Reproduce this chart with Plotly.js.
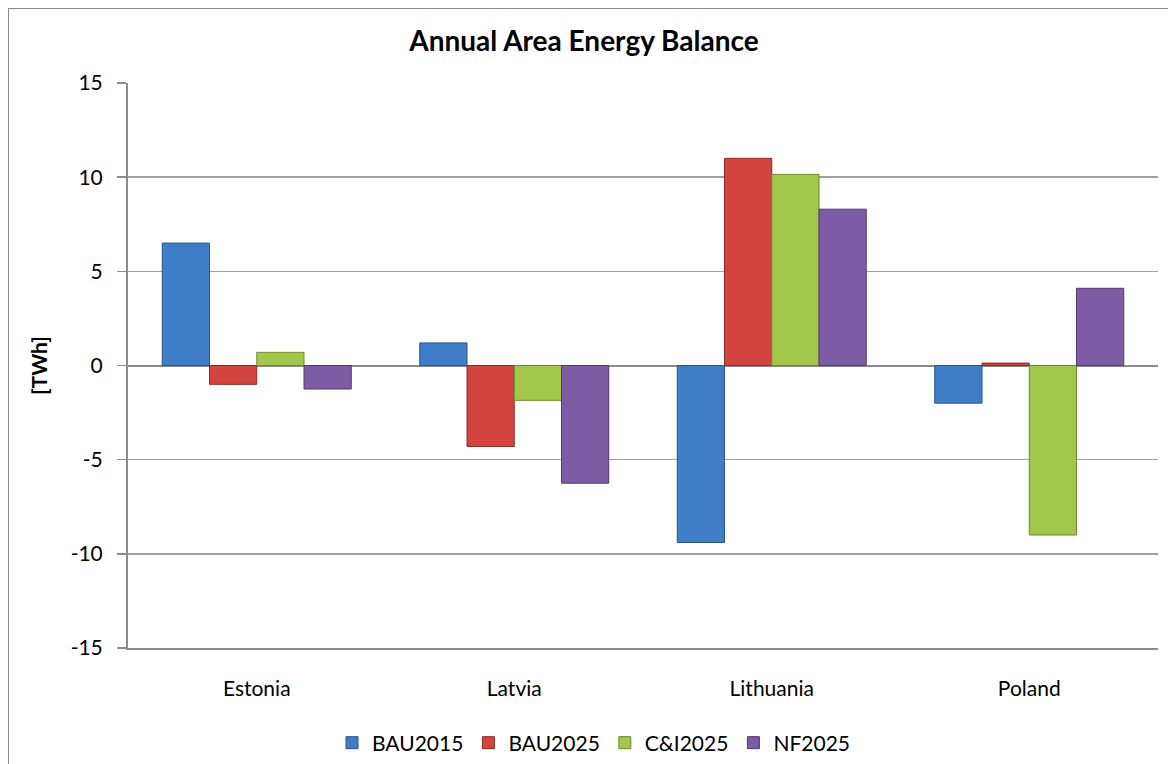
<!DOCTYPE html>
<html>
<head>
<meta charset="utf-8">
<script src="https://cdn.plot.ly/plotly-3.0.1.min.js"></script>
<style>
  html, body { margin: 0; padding: 0; background: #fff; }
  #wrap { position: relative; width: 1168px; height: 764px; overflow: hidden; }
  #chart { width: 1168px; height: 764px; }
  #frame { position: absolute; left: 8px; top: 8px; width: 1200px; height: 800px;
           border: 1px solid #8c8c8c; pointer-events: none; box-sizing: border-box; }
</style>
</head>
<body>
<div id="wrap">
  <div id="chart"></div>
  <div id="frame"></div>
</div>
<script>
const categories = ["Estonia", "Latvia", "Lithuania", "Poland"];
const seriesNames = ["BAU2015", "BAU2025", "C&I2025", "NF2025"];
const bau2015 = [6.5, 1.2, -9.4, -2.0];
const bau2025 = [-1.0, -4.3, 11.0, 0.13];
const ci2025 = [0.7, -1.85, 10.15, -9.0];
const nf2025 = [-1.25, -6.25, 8.3, 4.1];
const yTicks = [-15, -10, -5, 0, 5, 10, 15];

const values = [bau2015, bau2025, ci2025, nf2025];
const fills = ["#3f7dc8", "#d34441", "#a2c74a", "#7e5ba5"];
const edges = ["#2a5587", "#8e2b29", "#6d8a2e", "#54396f"];

const traces = seriesNames.map((name, i) => ({
  type: "bar",
  name: name,
  x: categories,
  y: values[i],
  marker: { color: fills[i], line: { color: edges[i], width: 1 } },
  hoverinfo: "x+y+name"
}));

const font = "Lato, 'Open Sans', 'DejaVu Sans', sans-serif";

const layout = {
  width: 1168,
  height: 764,
  paper_bgcolor: "#ffffff",
  plot_bgcolor: "#ffffff",
  margin: { l: 128, r: 10, t: 83, b: 116 },
  barmode: "group",
  bargap: 0.266,
  bargroupgap: 0,
  title: {
    text: "<b>Annual Area Energy Balance</b>",
    font: { family: font, size: 28, color: "#000" },
    x: 0.5, xanchor: "center", xref: "container",
    y: 1 - 41 / 764, yanchor: "middle", yref: "container"
  },
  xaxis: {
    type: "category",
    showgrid: false,
    showline: true,
    linecolor: "#8c8c8c",
    linewidth: 2,
    ticks: "",
    tickfont: { family: font, size: 21, color: "#000" },
    ticklabelstandoff: 21,
    zeroline: false,
    automargin: false
  },
  yaxis: {
    range: [-15, 15],
    tickvals: yTicks,
    ticktext: yTicks.map(String),
    showgrid: true,
    gridcolor: "#a0a0a0",
    gridwidth: 1.5,
    zeroline: true,
    zerolinecolor: "#8c8c8c",
    zerolinewidth: 2,
    showline: true,
    linecolor: "#8c8c8c",
    linewidth: 2,
    ticks: "outside",
    ticklen: 9,
    tickcolor: "#8c8c8c",
    tickwidth: 1.5,
    tickfont: { family: font, size: 21, color: "#000" },
    ticklabelstandoff: 10,
    automargin: false,
    title: { text: "<b>[TWh]</b>", font: { family: font, size: 21, color: "#000" }, standoff: 17 }
  },
  legend: {
    orientation: "h",
    xref: "container", yref: "container",
    x: 594 / 1168, xanchor: "center",
    y: 1 - 743 / 764, yanchor: "middle",
    font: { family: font, size: 21, color: "#000" },
    itemwidth: 30,
    traceorder: "normal",
    bgcolor: "rgba(0,0,0,0)"
  },
  showlegend: true
};

Plotly.newPlot("chart", traces, layout, { displayModeBar: false, staticPlot: true });
</script>
</body>
</html>
